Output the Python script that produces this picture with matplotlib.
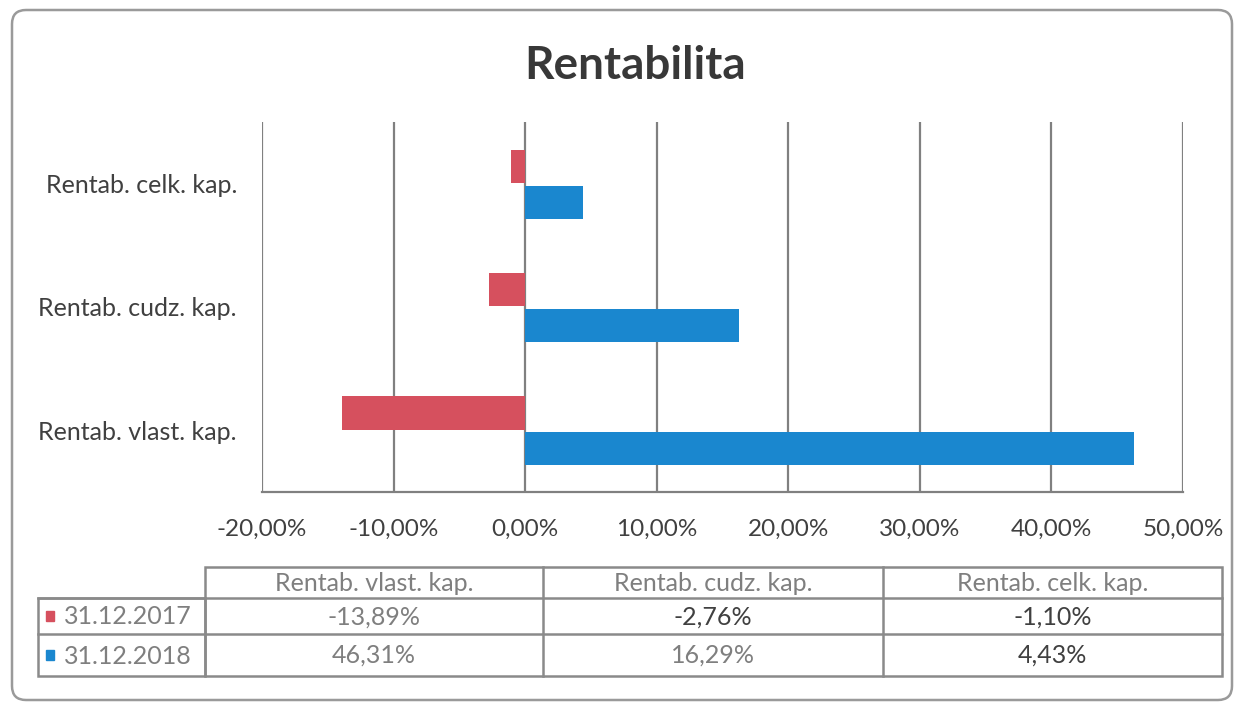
import matplotlib.pyplot as plt
import numpy as np
from matplotlib.patches import FancyBboxPatch, Rectangle

plt.rcParams['font.family'] = ['Lato', 'DejaVu Sans']

categories = ['Rentab. vlast. kap.', 'Rentab. cudz. kap.', 'Rentab. celk. kap.']
series_names = ['31.12.2017', '31.12.2018']
vals_2017 = [-13.89, -2.76, -1.10]
vals_2018 = [46.31, 16.29, 4.43]
xticks = [-20, -10, 0, 10, 20, 30, 40, 50]

red = '#d6505e'
blue = '#1a87cf'
grey = '#7f7f7f'
dark = '#404040'

def pct(v):
    return ('%.2f%%' % v).replace('.', ',')

fig = plt.figure(figsize=(12.42, 7.06), dpi=100)

# overlay in pixel coords for frame + table
bg = fig.add_axes([0, 0, 1, 1])
bg.set_xlim(0, 1242)
bg.set_ylim(706, 0)
bg.axis('off')
bg.add_patch(FancyBboxPatch((12, 10), 1220, 690, boxstyle='round,pad=0,rounding_size=14',
                            fc='white', ec='#9a9a9a', lw=1.8))

ax = fig.add_axes([262 / 1242, 1 - 492 / 706, 921 / 1242, 370 / 706])
y = np.arange(len(categories))
h = 0.27
ax.barh(y + 0.14, vals_2017, height=h, color=red, zorder=3)
ax.barh(y - 0.15, vals_2018, height=h, color=blue, zorder=3)
ax.set_xlim(-20, 50)
ax.set_ylim(-0.5, 2.5)
ax.set_xticks(xticks)
ax.set_xticklabels([pct(t) for t in xticks], fontsize=17.5, color=dark)
ax.set_yticks(y)
ax.set_yticklabels(categories, fontsize=18, color=dark)
ax.tick_params(axis='x', length=0, pad=19)
ax.tick_params(axis='y', length=0, pad=18)
ax.grid(axis='x', color='#808080', lw=1.6, zorder=0)
for s in ['top', 'right', 'left']:
    ax.spines[s].set_visible(False)
ax.spines['bottom'].set_color('#808080')
ax.spines['bottom'].set_linewidth(1.6)

fig.text(635 / 1242, 1 - 66 / 706, 'Rentabilita', ha='center', va='center',
         fontsize=33, fontweight='bold', color='#383838')

# data table
cols = [205, 543, 883, 1222]
rows = [567, 598, 634, 676]
lc = '#8a8a8a'
bg.add_patch(Rectangle((cols[0], rows[0]), cols[-1] - cols[0], rows[-1] - rows[0],
                       fill=False, ec=lc, lw=1.8))
bg.add_patch(Rectangle((38, rows[1]), cols[0] - 38, rows[-1] - rows[1],
                       fill=False, ec=lc, lw=1.8))
for c in cols[1:-1]:
    bg.plot([c, c], [rows[0], rows[-1]], color=lc, lw=1.8)
for r in rows[1:-1]:
    bg.plot([38, cols[-1]], [r, r], color=lc, lw=1.8)

for i, cat in enumerate(categories):
    xc = (cols[i] + cols[i + 1]) / 2
    bg.text(xc, (rows[0] + rows[1]) / 2 + 1, cat, ha='center', va='center',
            fontsize=18, color=grey)
    bg.text(xc, (rows[1] + rows[2]) / 2 + 1, pct(vals_2017[i]), ha='center',
            va='center', fontsize=18, color=grey if i == 0 else dark)
    bg.text(xc, (rows[2] + rows[3]) / 2, pct(vals_2018[i]), ha='center',
            va='center', fontsize=18, color=grey if i < 2 else dark)

for j, (name, col) in enumerate(zip(series_names, [red, blue])):
    yc = (rows[j + 1] + rows[j + 2]) / 2
    bg.add_patch(Rectangle((46, yc - 5), 8, 10, color=col))
    bg.text(64, yc + 1, name, ha='left', va='center', fontsize=18, color=grey)

fig.savefig('out.png', dpi=100)
